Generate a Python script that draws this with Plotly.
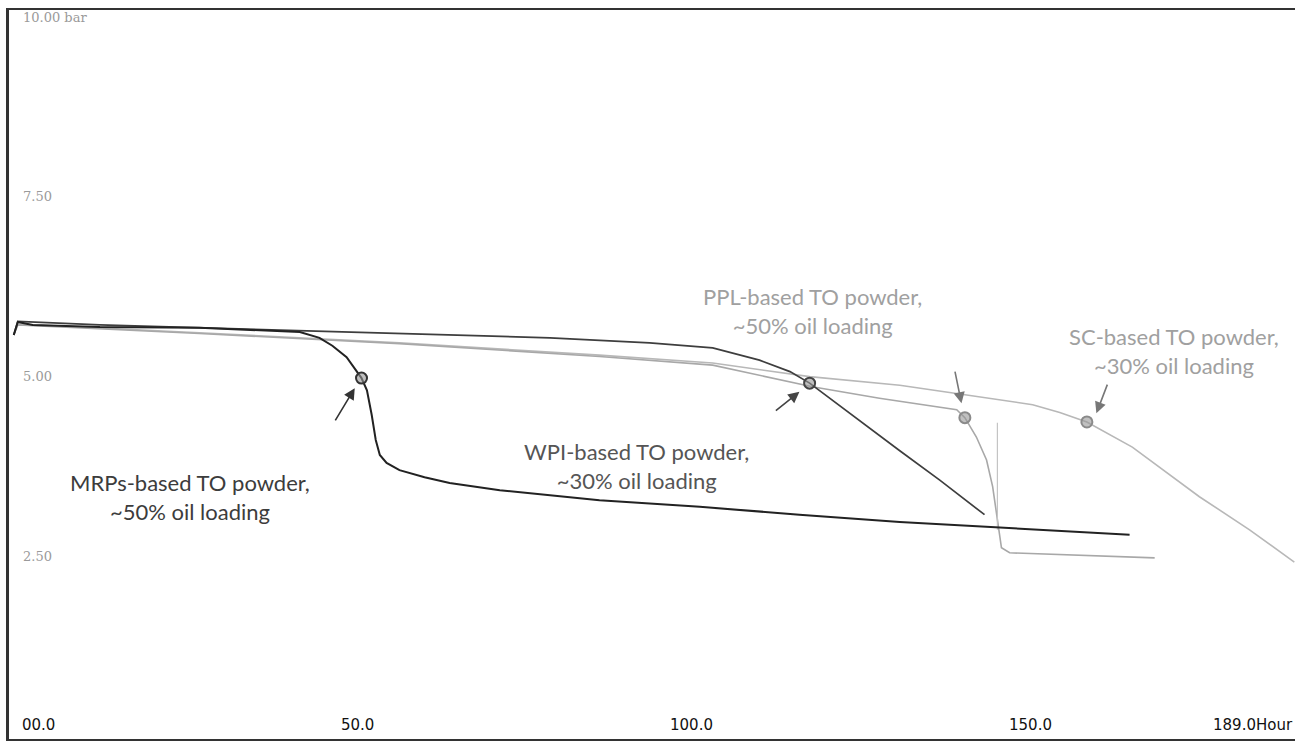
import plotly.graph_objects as go

# ---- data (time in hours, pressure in bar) ----
mrps_t = [0, 0.6, 2.8, 12.7, 27.4, 42.2, 45.1, 47.0, 49.1, 50.7, 51.3, 52.1, 52.8, 53.4, 54.0, 55.0,
          56.9, 60.6, 64.3, 71.7, 86.4, 101.2, 115.9, 130.7, 145.4, 164.6]
mrps_p = [5.48, 5.66, 5.62, 5.59, 5.58, 5.52, 5.44, 5.33, 5.17, 4.97, 4.88, 4.71, 4.37, 4.02, 3.81, 3.70,
          3.60, 3.50, 3.42, 3.32, 3.18, 3.09, 2.98, 2.88, 2.80, 2.70]

wpi_t = [0, 0.6, 12.7, 27.4, 56.9, 79.1, 93.8, 103.1, 110.0, 114.5, 117.4, 123.3, 130.7, 136.6, 143.2]
wpi_p = [5.48, 5.67, 5.62, 5.58, 5.51, 5.44, 5.37, 5.30, 5.13, 4.97, 4.81, 4.39, 3.87, 3.46, 2.98]

ppl_t = [0, 0.6, 27.4, 56.9, 86.4, 103.1, 117.8, 127.7, 139.1, 140.3, 142.0, 143.5, 144.4, 145.1, 145.4,
         145.7, 146.9, 152.8, 160.2, 168.3]
ppl_p = [5.48, 5.62, 5.50, 5.36, 5.18, 5.06, 4.76, 4.60, 4.44, 4.33, 4.06, 3.74, 3.37, 2.91, 2.73,
         2.52, 2.45, 2.43, 2.41, 2.38]

sc_t = [0, 0.6, 27.4, 56.9, 86.4, 103.1, 117.4, 130.7, 138.8, 144.0, 150.3, 154.3, 158.3, 165.0, 174.9,
        182.3, 188.9]
sc_p = [5.48, 5.63, 5.51, 5.37, 5.20, 5.09, 4.90, 4.78, 4.67, 4.60, 4.51, 4.40, 4.27, 3.92, 3.23,
        2.77, 2.32]

end_mark_t = [145.1, 145.1]
end_mark_p = [4.26, 2.77]

# induction-point markers
ip_t = [51.3, 117.4, 140.3, 158.3]
ip_p = [4.88, 4.81, 4.33, 4.27]
ip_colors = ["#333333", "#444444", "#8a8a8a", "#8a8a8a"]

# labels
label_text = ["MRPs-based TO powder,<br>~50% oil loading",
              "WPI-based TO powder,<br>~30% oil loading",
              "PPL-based TO powder,<br>~50% oil loading",
              "SC-based TO powder,<br>~30% oil loading"]
label_t = [26.0, 91.9, 117.8, 171.2]
label_p = [3.23, 3.66, 5.81, 5.25]
label_colors = ["#3c3c3c", "#555555", "#a0a0a0", "#a0a0a0"]

# arrows (head -> tail)
arrow_head_t = [50.3, 115.9, 139.8, 159.7]
arrow_head_p = [4.74, 4.69, 4.53, 4.39]
arrow_tail_t = [47.3, 112.2, 138.8, 161.4]
arrow_tail_p = [4.27, 4.41, 4.99, 4.81]
arrow_colors = ["#333333", "#444444", "#777777", "#777777"]

# tick labels
x_tick_vals = [0, 50, 100, 150, 189]
x_tick_text = ["00.0", "50.0", "100.0", "150.0", "189.0Hour"]
y_tick_vals = [10, 7.5, 5, 2.5]
y_tick_text = ["10.00 bar", "7.50", "5.00", "2.50"]

fig = go.Figure()
fig.add_trace(go.Scatter(x=sc_t, y=sc_p, mode="lines", line=dict(color="#b8b8b8", width=1.6)))
fig.add_trace(go.Scatter(x=ppl_t, y=ppl_p, mode="lines", line=dict(color="#a8a8a8", width=1.6)))
fig.add_trace(go.Scatter(x=end_mark_t, y=end_mark_p, mode="lines", line=dict(color="#c4c4c4", width=1.2)))
fig.add_trace(go.Scatter(x=wpi_t, y=wpi_p, mode="lines", line=dict(color="#3e3e3e", width=1.7)))
fig.add_trace(go.Scatter(x=mrps_t, y=mrps_p, mode="lines", line=dict(color="#222222", width=2)))
fig.add_trace(go.Scatter(x=ip_t, y=ip_p, mode="markers",
                         marker=dict(size=11, color="rgba(150,150,150,0.6)",
                                     line=dict(color=ip_colors, width=2))))

ann = []
for t, p, txt, c in zip(label_t, label_p, label_text, label_colors):
    ann.append(dict(x=t, y=p, xref="x", yref="y", text=txt, showarrow=False,
                    font=dict(family="Lato", size=22, color=c), align="center"))
for ht, hp, tt, tp, c in zip(arrow_head_t, arrow_head_p, arrow_tail_t, arrow_tail_p, arrow_colors):
    ann.append(dict(x=ht, y=hp, ax=tt, ay=tp, xref="x", yref="y", axref="x", ayref="y",
                    text="", showarrow=True, arrowhead=2, arrowsize=1.4, arrowwidth=1.6,
                    arrowcolor=c))
for i, (v, txt) in enumerate(zip(x_tick_vals, x_tick_text)):
    anchor = "center"
    if i == 0:
        anchor = "left"
    elif i == len(x_tick_vals) - 1:
        anchor = "right"
    ann.append(dict(x=v, y=0, xref="x", yref="paper", text=txt, showarrow=False,
                    xanchor=anchor, yanchor="bottom", yshift=3,
                    xshift=6 if i == 0 else (5 if i == 1 else 0),
                    font=dict(family="DejaVu Sans", size=15, color="#111111")))
for v, txt in zip(y_tick_vals, y_tick_text):
    ann.append(dict(x=0, y=v, xref="paper", yref="y", text=txt, showarrow=False,
                    xanchor="left", yanchor="middle", xshift=12, yshift=-7,
                    font=dict(family="DejaVu Serif", size=13, color="#9a9a9a")))

fig.update_layout(
    width=1304, height=742,
    margin=dict(l=9, r=9, t=10, b=3),
    paper_bgcolor="white", plot_bgcolor="white",
    showlegend=False,
    annotations=ann,
    xaxis=dict(range=[-0.7, 189], showgrid=False, zeroline=False, showticklabels=False,
               ticks="", showline=True, linecolor="#333333", linewidth=2, mirror=True),
    yaxis=dict(range=[-0.14, 10], showgrid=False, zeroline=False, showticklabels=False,
               ticks="", showline=True, linecolor="#333333", linewidth=3),
)

fig.write_html("out.html", config={"displayModeBar": False},
               post_script="document.body.style.margin='0';document.body.style.overflow='hidden';")
